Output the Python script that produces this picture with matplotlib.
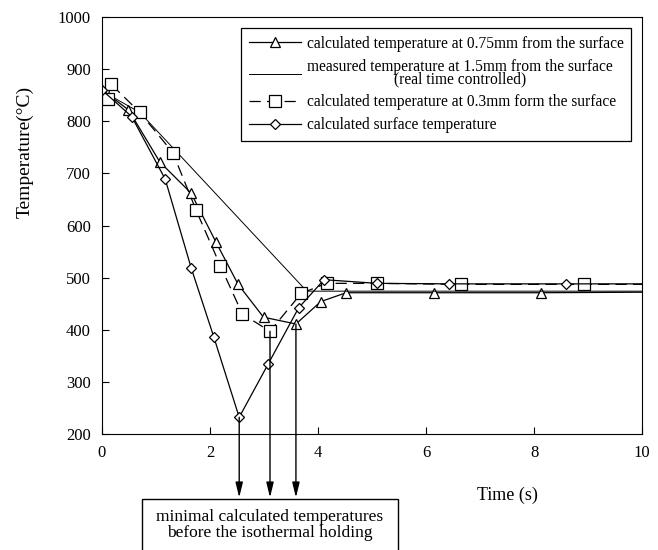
import matplotlib
matplotlib.use('Agg')
import matplotlib.pyplot as plt
from matplotlib.patches import Rectangle

plt.rcParams['font.family'] = ['Liberation Serif', 'DejaVu Serif']

# calculated temperature at 0.75 mm (triangles)
t_075 = [0, 0.49, 1.07, 1.65, 2.11, 2.52, 2.99, 3.59, 4.05, 4.52, 6.14, 8.13, 10]
T_075 = [860, 822, 722, 662, 568, 487, 424, 411, 454, 471, 471, 471, 472]

# measured temperature at 1.5 mm (real time controlled)
t_meas = [0, 0.70, 3.79, 10]
T_meas = [858, 817, 474, 474]

# calculated temperature at 0.3 mm (squares, dashed)
t_03 = [0.11, 0.16, 0.70, 1.31, 1.74, 2.19, 2.60, 3.11, 3.69, 4.16, 5.09, 6.64, 8.93, 10]
T_03 = [842, 872, 817, 740, 630, 523, 430, 397, 470, 489, 489, 487, 487, 487]

# calculated surface temperature (diamonds)
t_surf = [0, 0.55, 1.17, 1.65, 2.07, 2.54, 3.08, 3.64, 4.11, 5.09, 6.43, 8.59, 10]
T_surf = [860, 809, 689, 519, 386, 232, 335, 442, 496, 489, 488, 488, 488]

# minima pointed at by the arrows
t_min = [2.54, 3.11, 3.59]
T_min = [232, 397, 411]

labels = ['calculated temperature at 0.75mm from the surface',
          'measured temperature at 1.5mm from the surface\n(real time controlled)',
          'calculated temperature at 0.3mm form the surface',
          'calculated surface temperature']

fig = plt.figure(figsize=(6.58, 5.5), dpi=100)
ax = fig.add_axes([0.155, 0.211, 0.821, 0.758])

mk = dict(color='black', markerfacecolor='white', markeredgecolor='black',
          markeredgewidth=0.9, markevery=slice(0, -1))
ax.plot(t_075, T_075, '-', marker='^', markersize=7, lw=0.9, label=labels[0], **mk)
ax.plot(t_meas, T_meas, '-', color='black', lw=0.7, label=labels[1])
ax.plot(t_03, T_03, marker='s', markersize=8, lw=0.9, dashes=(9, 5), label=labels[2], **mk)
ax.plot(t_surf, T_surf, '-', marker='D', markersize=5.5, lw=0.9, label=labels[3], **mk)

# arrows from the minima down to the note box
for x, y in zip(t_min, T_min):
    ax.annotate('', xy=(x, 78), xytext=(x, y), annotation_clip=False,
                arrowprops=dict(arrowstyle='-|>,head_length=0.9,head_width=0.22',
                                color='black', lw=1, shrinkA=0, shrinkB=0))

ax.set_xlim(0, 10)
ax.set_ylim(200, 1000)
ax.set_xticks([0, 2, 4, 6, 8, 10])
ax.set_yticks(range(200, 1001, 100))
ax.tick_params(direction='in', length=5, labelsize=12, pad=8)
ax.set_ylabel('Temperature(°C)', fontsize=14)
ax.yaxis.set_label_coords(-0.127, 0.676)
ax.text(7.5, 82, 'Time (s)', fontsize=13, ha='center', va='center')

leg = ax.legend(loc='upper right', bbox_to_anchor=(0.98, 0.974), fontsize=11.2,
                handlelength=3.3, fancybox=False, edgecolor='black', framealpha=1,
                borderpad=0.5, labelspacing=0.45, handletextpad=0.4,
                borderaxespad=0)
leg.get_frame().set_linewidth(0.9)
for txt in leg.get_texts():
    txt.set_multialignment('center')
    txt.set_linespacing(0.72)

# note box at the bottom
fig.patches.append(Rectangle((142 / 658, -0.05), 256 / 658, 0.05 + 1 - 499 / 550,
                             transform=fig.transFigure, fill=False,
                             edgecolor='black', lw=1))
fig.text(270 / 658, 1 - 517 / 550, 'minimal calculated temperatures',
         ha='center', va='center', fontsize=12.5)
fig.text(270 / 658, 1 - 533 / 550, 'before the isothermal holding',
         ha='center', va='center', fontsize=12.5)

fig.savefig('out.png', dpi=100)
